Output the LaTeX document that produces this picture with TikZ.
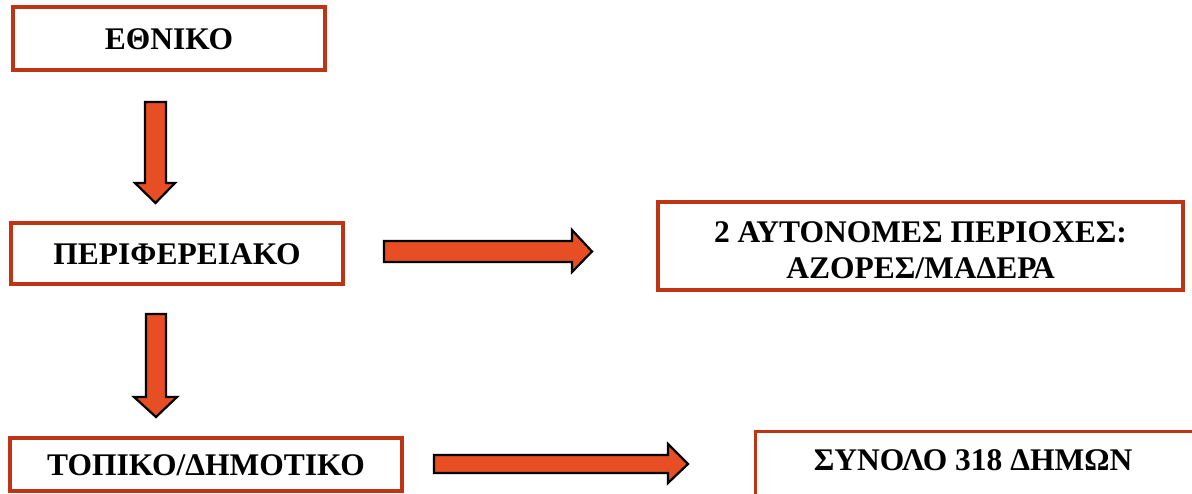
\documentclass[tikz,border=0pt]{standalone}
\usepackage{fontspec}
\setmainfont{Liberation Serif}
\definecolor{boxred}{RGB}{192,52,22}
\definecolor{arrowfill}{RGB}{232,78,36}
\tikzset{
  levelbox/.style={draw=boxred, line width=3.4pt, fill=white, inner sep=0pt,
    font=\fontsize{31.5}{36}\selectfont\bfseries, text height=22pt, text depth=0pt},
  blockarrow/.style={draw=black, line width=2.2pt, fill=arrowfill, line join=miter},
  lbl/.style={font=\fontsize{31.5}{36}\selectfont\bfseries, inner sep=0pt, anchor=base}
}
\begin{document}
\begin{tikzpicture}[x=1pt,y=-1pt]
\useasboundingbox (0,0) rectangle (1192,493);
\clip (0,0) rectangle (1192,493);
% boxes
\node[levelbox, minimum width=312pt, minimum height=63pt] (ethniko) at (169,38.5) {ΕΘΝΙΚΟ};
\node[levelbox, minimum width=332pt, minimum height=61pt] (perif) at (177,253.5) {ΠΕΡΙΦΕΡΕΙΑΚΟ};
\node[levelbox, minimum width=392pt, minimum height=53pt] (topiko) at (206,464.5) {ΤΟΠΙΚΟ/ΔΗΜΟΤΙΚΟ};
\node[draw=boxred, line width=3.4pt, inner sep=0pt, minimum width=525pt, minimum height=88pt] (auton) at (920.5,246) {};
\node[lbl] (autonA) at (920.5,242) {2 ΑΥΤΟΝΟΜΕΣ ΠΕΡΙΟΧΕΣ:};
\node[lbl] (autonB) at (920.5,278) {ΑΖΟΡΕΣ/ΜΑΔΕΡΑ};
\node[draw=boxred, line width=3.4pt, inner sep=0pt, minimum width=500pt, minimum height=120pt, anchor=north west] (synolo) at (754,430) {};
\node[lbl] (synoloT) at (973,470) {ΣΥΝΟΛΟ 318 ΔΗΜΩΝ};
% block arrows
\draw[blockarrow] (145,102) -- (166,102) -- (166,183) -- (175,183) -- (155.5,203) -- (135,183) -- (145,183) -- cycle;
\draw[blockarrow] (146,314) -- (166,314) -- (166,397) -- (177,397) -- (156,417) -- (134,397) -- (146,397) -- cycle;
\draw[blockarrow] (384,241) -- (572,241) -- (572,230) -- (592,251.5) -- (572,272) -- (572,262) -- (384,262) -- cycle;
\draw[blockarrow] (434,455) -- (668,455) -- (668,444) -- (688,464) -- (668,483) -- (668,473) -- (434,473) -- cycle;
\end{tikzpicture}
\end{document}
